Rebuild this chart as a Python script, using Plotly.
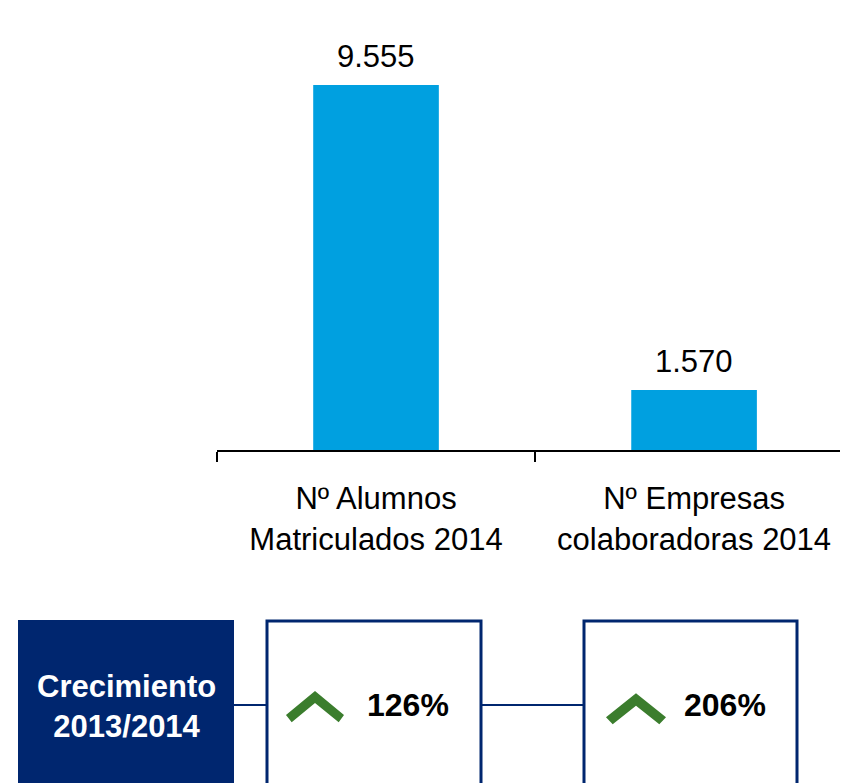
import plotly.graph_objects as go

# data
categories = ['Nº Alumnos<br>Matriculados 2014', 'Nº Empresas<br>colaboradoras 2014']
values = [9555, 1570]
growth_title = 'Crecimiento<br>2013/2014'
growth_labels = ['126%', '206%']

BAR_COLOR = '#00A0E0'
NAVY = '#00266F'
GREEN = '#3B7D2D'
FONT = 'Liberation Sans, Arial, sans-serif'

# the page adds an 8px margin around the figure
OFF = 8
W, H = 848 - OFF, 783 - OFF
AXIS_X, AXIS_Y = 217, 450          # reference pixel position of axis origin
L = AXIS_X - OFF
PLOT_H = AXIS_Y - OFF
PLOT_W = W - L


def px_x(px):
    return (px - AXIS_X) / PLOT_W


def px_y(py):
    return (AXIS_Y - py) / PLOT_H


fig = go.Figure()
fig.add_trace(go.Bar(
    x=categories,
    y=values,
    width=0.395,
    marker=dict(color=BAR_COLOR, line=dict(width=0)),
    hoverinfo='skip',
))

# value labels above bars
for cat, val in zip(categories, values):
    fig.add_annotation(
        x=cat, y=val, xref='x', yref='y',
        text=f'{val:,}'.replace(',', '.'),
        showarrow=False, yanchor='bottom', yshift=9,
        font=dict(family=FONT, size=31, color='black'),
    )

shapes = []
# navy title box
shapes.append(dict(
    type='rect', xref='paper', yref='paper',
    x0=px_x(18), x1=px_x(234), y0=px_y(800), y1=px_y(620),
    fillcolor=NAVY, line=dict(width=0), layer='above',
))
# connector lines
for x0, x1 in [(234, 267), (481, 584)]:
    shapes.append(dict(
        type='line', xref='paper', yref='paper',
        x0=px_x(x0), x1=px_x(x1), y0=px_y(705), y1=px_y(705),
        line=dict(color=NAVY, width=2),
    ))
# white boxes
box_left = [267, 584]
box_right = [481, 797]
for bl, br in zip(box_left, box_right):
    shapes.append(dict(
        type='rect', xref='paper', yref='paper',
        x0=px_x(bl), x1=px_x(br), y0=px_y(800), y1=px_y(621),
        fillcolor='white', line=dict(color=NAVY, width=3),
    ))

# up chevrons
chevrons = [
    [(286, 715), (315, 691), (344, 715), (338.7, 722.3), (315, 703), (291.7, 722.3)],
    [(606, 717.3), (636, 693.3), (666, 717.3), (659.3, 724.3), (636, 705.7), (612.7, 724.3)],
]
for pts in chevrons:
    path = 'M ' + ' L '.join(f'{px_x(a):.5f},{px_y(b):.5f}' for a, b in pts) + ' Z'
    shapes.append(dict(
        type='path', xref='paper', yref='paper', path=path,
        fillcolor=GREEN, line=dict(width=0),
    ))

annotations = [dict(
    x=px_x(126), y=px_y(706), xref='paper', yref='paper',
    text=f'<b>{growth_title}</b>', showarrow=False,
    xanchor='center', yanchor='middle',
    font=dict(family=FONT, size=31, color='white'),
)]
for cx, lab in zip([408, 725], growth_labels):
    annotations.append(dict(
        x=px_x(cx), y=px_y(705), xref='paper', yref='paper',
        text=f'<b>{lab}</b>', showarrow=False,
        xanchor='center', yanchor='middle',
        font=dict(family=FONT, size=32, color='black'),
    ))

fig.update_layout(
    width=W, height=H, autosize=False,
    margin=dict(l=L, r=0, t=0, b=H - PLOT_H, pad=0),
    plot_bgcolor='white', paper_bgcolor='white',
    showlegend=False,
    shapes=shapes,
    xaxis=dict(
        type='category',
        range=[-0.5, 1.484],
        showline=True, linecolor='black', linewidth=2,
        ticks='outside', tickson='boundaries', ticklen=10,
        tickwidth=2, tickcolor='black',
        showgrid=False, zeroline=False,
        tickfont=dict(family=FONT, size=31, color='black'),
        ticklabelstandoff=20,
        fixedrange=True,
    ),
    yaxis=dict(
        visible=False, range=[0, 9555 * PLOT_H / 365],
        fixedrange=True,
    ),
    font=dict(family=FONT),
)
for a in annotations:
    fig.add_annotation(**a)

fig.write_html('out.html')
